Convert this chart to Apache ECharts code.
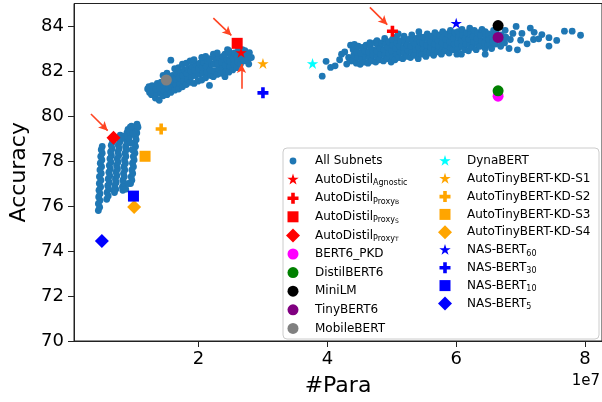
<!DOCTYPE html>
<html><head><meta charset="utf-8">
<script src="https://cdn.jsdelivr.net/npm/echarts@6/dist/echarts.min.js"></script>
<style>html,body{margin:0;padding:0;background:#fff}#c{width:602px;height:402px}</style>
</head><body><div id="c"></div>
<script>
// #Para values are written in units of 1e7 (as on the axis), accuracy in %.
const PARA_UNIT = 1e7;
const xTickLabels = [2, 4, 6, 8];
const yTickLabels = [70, 72, 74, 76, 78, 80, 82, 84];

// All Subnets: small models cluster
const subnetsSmall = [
[0.445,75.8],[0.465,75.95],[0.445,76.1],[0.470,76.25],[0.450,76.4],[0.470,76.55],[0.455,76.7],[0.480,76.85],[0.460,77.0],[0.485,77.15],
[0.462,77.3],[0.490,77.45],[0.470,77.6],[0.495,77.75],[0.475,77.9],[0.500,78.05],[0.482,78.2],[0.505,78.35],[0.490,78.5],[0.505,78.65],
[0.575,76.3],[0.598,76.45],[0.580,76.6],[0.605,76.75],[0.590,76.9],[0.615,77.05],[0.598,77.2],[0.622,77.35],[0.608,77.5],[0.632,77.65],
[0.615,77.8],[0.640,77.95],[0.625,78.1],[0.648,78.25],[0.635,78.4],[0.658,78.55],[0.645,78.7],[0.665,78.85],[0.655,79.0],
[0.695,76.6],[0.715,76.75],[0.700,76.9],[0.722,77.05],[0.710,77.2],[0.732,77.35],[0.720,77.5],[0.742,77.65],[0.728,77.8],[0.750,77.95],
[0.738,78.1],[0.760,78.25],[0.748,78.4],[0.768,78.55],[0.755,78.7],[0.778,78.85],[0.768,79.0],[0.785,79.15],
[0.825,76.7],[0.818,76.85],[0.838,77.0],[0.825,77.15],[0.848,77.3],[0.835,77.45],[0.855,77.6],[0.842,77.75],[0.865,77.9],[0.850,78.05],
[0.872,78.2],[0.860,78.35],[0.880,78.5],[0.868,78.65],[0.890,78.8],[0.878,78.95],[0.898,79.1],[0.888,79.25],[0.905,79.4],
[0.945,77.0],[0.965,77.15],[0.955,77.3],[0.978,77.45],[0.965,77.6],[0.990,77.75],[0.975,77.9],[1.000,78.05],[0.988,78.2],[1.012,78.35],
[0.998,78.5],[1.022,78.65],[1.008,78.8],[1.032,78.95],[1.020,79.1],[1.042,79.25],[1.030,79.4],[1.050,79.55],[1.045,79.64],
[0.87,76.75],[0.91,77.0],[0.69,76.7],[1.06,79.5],[1.0,79.3],[0.94,79.5],[0.93,79.3],[0.96,79.55],[0.98,79.2],[0.92,79.0],[0.95,78.8],[0.97,78.5],[0.85,79.1],[0.80,79.0]
];

// All Subnets: middle cluster
const subnetsMid = [
[1.21,81.2],[1.24,81.05],[1.23,81.3],
[1.27,80.95],[1.29,81.15],[1.28,81.35],
[1.33,80.8],[1.35,81.0],[1.34,81.2],[1.36,81.45],
[1.39,80.7],[1.41,81.0],[1.40,81.25],[1.42,81.5],
[1.45,80.9],[1.47,81.1],[1.46,81.35],[1.48,81.6],[1.45,81.8],
[1.51,80.95],[1.53,81.2],[1.52,81.45],[1.54,81.7],[1.51,81.9],
[1.57,82.48],
[1.57,81.05],[1.59,81.3],[1.58,81.55],[1.60,81.8],
[1.63,81.15],[1.65,81.4],[1.64,81.65],[1.66,81.9],[1.63,82.1],
[1.69,81.2],[1.71,81.45],[1.70,81.7],[1.72,81.95],[1.69,82.15],
[1.75,81.3],[1.77,81.55],[1.76,81.8],[1.78,82.05],[1.75,82.3],
[1.81,81.4],[1.83,81.65],[1.82,81.9],[1.84,82.1],[1.81,82.35],
[1.87,81.5],[1.89,81.75],[1.88,82.0],[1.90,82.2],[1.87,82.45],
[1.93,81.45],[1.95,81.8],[1.94,82.05],[1.96,82.3],[1.93,82.5],
[1.99,81.55],[2.01,81.85],[2.00,82.1],[2.02,82.35],
[2.05,81.6],[2.07,81.9],[2.06,82.15],[2.08,82.4],[2.05,82.6],
[2.11,81.7],[2.13,81.95],[2.12,82.2],[2.14,82.45],[2.11,82.65],
[2.17,81.36],[2.19,81.8],[2.18,82.05],[2.20,82.3],[2.17,82.55],
[2.23,81.75],[2.25,82.0],[2.24,82.3],[2.26,82.55],[2.23,82.75],
[2.29,81.85],[2.31,82.1],[2.30,82.35],[2.32,82.6],[2.29,82.8],
[2.35,81.9],[2.37,82.15],[2.36,82.4],[2.38,82.65],
[2.41,81.75],[2.43,82.0],[2.42,82.25],[2.44,82.5],[2.41,82.75],[2.45,82.95],
[2.47,81.95],[2.49,82.2],[2.48,82.45],[2.50,82.7],[2.47,82.9],
[2.53,82.05],[2.55,82.3],[2.54,82.55],[2.56,82.8],
[2.59,82.15],[2.61,82.4],[2.60,82.65],[2.62,82.9],[2.62,83.04],
[2.65,82.3],[2.67,82.55],[2.66,82.75],[2.68,82.95],
[2.71,82.45],[2.73,82.7],[2.72,82.9],
[2.77,82.5],[2.79,82.82],[2.78,82.31],
[2.82,82.6]
];

// All Subnets: large models cluster
const subnetsLarge = [
[3.92,81.77],[3.98,82.43],[4.05,82.16],[4.12,82.23],[4.19,82.5],[4.22,82.75],[4.27,82.85],[4.30,82.31],[4.33,82.6],[4.36,83.15],[4.35,82.45],
[4.39,82.45],[4.41,82.7],[4.40,82.95],[4.42,83.18],
[4.45,82.35],[4.47,82.6],[4.46,82.85],[4.48,83.1],
[4.51,82.3],[4.53,82.55],[4.52,82.8],[4.54,83.05],
[4.57,82.4],[4.59,82.65],[4.58,82.9],[4.60,83.15],
[4.63,82.35],[4.65,82.6],[4.64,82.85],[4.66,83.1],[4.66,83.26],
[4.69,82.45],[4.71,82.7],[4.70,82.95],[4.74,83.26],
[4.75,82.4],[4.77,82.65],[4.76,82.9],[4.78,83.15],[4.77,83.35],
[4.81,82.5],[4.83,82.75],[4.82,83.0],[4.84,83.25],
[4.87,82.45],[4.89,82.7],[4.88,82.95],[4.90,83.2],[4.89,83.45],
[4.93,82.55],[4.95,82.8],[4.94,83.05],[4.96,83.3],
[4.99,82.4],[5.01,82.65],[5.00,82.9],[5.02,83.15],[5.01,83.4],
[5.05,82.5],[5.07,82.75],[5.06,83.0],[5.08,83.25],[5.07,83.5],
[5.11,82.6],[5.13,82.85],[5.12,83.1],[5.14,83.35],[5.10,83.65],
[5.17,82.55],[5.19,82.8],[5.18,83.05],[5.20,83.3],[5.19,83.55],
[5.23,82.65],[5.25,82.9],[5.24,83.15],[5.26,83.4],
[5.29,82.6],[5.31,82.85],[5.30,83.1],[5.32,83.35],[5.31,83.6],
[5.35,82.7],[5.37,82.95],[5.36,83.2],[5.38,83.45],
[5.41,82.55],[5.43,82.8],[5.42,83.05],[5.44,83.3],[5.43,83.55],[5.42,83.75],
[5.47,82.75],[5.49,83.0],[5.48,83.25],[5.50,83.5],
[5.53,82.65],[5.55,82.9],[5.54,83.15],[5.56,83.4],[5.55,83.65],
[5.59,82.8],[5.61,83.05],[5.60,83.3],[5.62,83.55],
[5.65,82.7],[5.67,82.95],[5.66,83.2],[5.68,83.45],[5.67,83.7],
[5.71,82.85],[5.73,83.1],[5.72,83.35],[5.74,83.6],
[5.77,82.75],[5.79,83.0],[5.78,83.25],[5.80,83.5],[5.79,83.75],
[5.83,82.9],[5.85,83.15],[5.84,83.4],[5.86,83.65],
[5.89,82.8],[5.91,83.05],[5.90,83.3],[5.92,83.55],[5.91,83.8],
[5.95,82.95],[5.97,83.2],[5.96,83.45],[5.98,83.7],
[6.01,82.75],[6.03,83.0],[6.02,83.25],[6.04,83.5],[6.03,83.75],
[6.08,82.75],[6.09,83.1],[6.08,83.35],[6.10,83.6],[6.09,83.85],
[6.13,82.95],[6.15,83.2],[6.14,83.45],[6.16,83.7],
[6.19,82.9],[6.21,83.15],[6.20,83.4],[6.22,83.65],[6.21,83.9],
[6.25,83.05],[6.27,83.3],[6.26,83.55],[6.28,83.8],
[6.31,82.95],[6.33,83.2],[6.32,83.45],[6.34,83.7],
[6.37,83.1],[6.39,83.35],[6.38,83.6],[6.40,83.85],
[6.45,82.75],[6.45,83.0],[6.44,83.25],[6.46,83.5],[6.45,83.75],
[6.49,83.15],[6.52,83.18],[6.51,83.4],[6.50,83.65],
[6.55,83.0],[6.57,83.3],[6.56,83.55],[6.58,83.8],
[6.61,83.2],[6.63,83.45],[6.62,83.7],
[6.69,83.1],[6.71,83.35],[6.70,83.6],
[6.75,83.25],[6.77,83.5],[6.76,83.81],
[6.93,83.98],[7.15,83.91],[7.21,83.72],[7.33,83.62],[7.02,83.67],[6.88,83.67],[6.84,83.4],[7.00,83.37],[7.10,83.21],
[7.20,83.40],[7.28,83.43],[7.44,83.48],[7.44,83.11],[7.56,83.36],[7.68,83.77],[7.80,83.77],[7.93,83.59],[6.82,83.00],[6.95,82.94]
];

// Named models
const modelNames = ['AutoDistil_Agnostic','AutoDistil_ProxyB','AutoDistil_ProxyS','AutoDistil_ProxyT',
  'BERT6_PKD','DistilBERT6','MiniLM','TinyBERT6','MobileBERT',
  'DynaBERT','AutoTinyBERT-KD-S1','AutoTinyBERT-KD-S2','AutoTinyBERT-KD-S3','AutoTinyBERT-KD-S4',
  'NAS-BERT60','NAS-BERT30','NAS-BERT10','NAS-BERT5'];
const modelParams = [2.66, 5.01, 2.60, 0.68, 6.65, 6.65, 6.65, 6.65, 1.50, 3.77, 3.00, 1.42, 1.17, 1.00, 6.00, 3.00, 0.99, 0.50];
const modelAcc    = [82.8, 83.77, 83.23, 79.03, 80.88, 81.12, 84.02, 83.49, 81.6, 82.31, 82.31, 79.42, 78.21, 75.96, 84.1, 81.03, 76.44, 74.45];

// Arrow annotations: [fromPara, fromAcc, toPara, toAcc]
const arrows = [
  [0.33, 80.09, 0.59, 79.35],
  [2.23, 84.35, 2.51, 83.58],
  [2.667, 81.21, 2.667, 82.31],
  [4.66, 84.83, 4.93, 84.06]
];

// ---------- styling ----------
const DOT = 'path://M0,0M14,14M3.6,7A3.4,3.4,0,1,1,10.4,7A3.4,3.4,0,1,1,3.6,7Z';
const CIRCLE = 'path://M0,0M14,14M1.5,7A5.5,5.5,0,1,1,12.5,7A5.5,5.5,0,1,1,1.5,7Z';
const SQUARE = 'path://M0,0M14,14M1.5,1.5H12.5V12.5H1.5Z';
const DIAMOND = 'path://M7,0L14,7L7,14L0,7Z';
const STAR = 'path://M0,0M14,14M7,1L8.347,5.146L12.706,5.146L9.18,7.708L10.527,11.854L7,9.292L3.473,11.854L4.82,7.708L1.294,5.146L5.653,5.146Z';
const PLUS = 'path://M0,0M14,14M5.2,1.5H8.8V5.2H12.5V8.8H8.8V12.5H5.2V8.8H1.5V5.2H5.2Z';
const RED='#ff0000', ORANGE='#ffa500', BLUE='#0000ff';
const modelStyle = [
  [STAR,RED],[PLUS,RED],[SQUARE,RED],[DIAMOND,RED],
  [CIRCLE,'#ff00ff'],[CIRCLE,'#008000'],[CIRCLE,'#000000'],[CIRCLE,'#800080'],[CIRCLE,'#808080'],
  [STAR,'#00ffff'],[STAR,ORANGE],[PLUS,ORANGE],[SQUARE,ORANGE],[DIAMOND,ORANGE],
  [STAR,BLUE],[PLUS,BLUE],[SQUARE,BLUE],[DIAMOND,BLUE]
];
const legendLabel = {
  'AutoDistil_Agnostic': 'AutoDistil{sub|Agnostic}',
  'AutoDistil_ProxyB': 'AutoDistil{sub|Proxy}{sub2|B}',
  'AutoDistil_ProxyS': 'AutoDistil{sub|Proxy}{sub2|S}',
  'AutoDistil_ProxyT': 'AutoDistil{sub|Proxy}{sub2|T}',
  'NAS-BERT60': 'NAS-BERT{sub|60}',
  'NAS-BERT30': 'NAS-BERT{sub|30}',
  'NAS-BERT10': 'NAS-BERT{sub|10}',
  'NAS-BERT5': 'NAS-BERT{sub|5}'
};
const FONT = 'DejaVu Sans';
const toPt = p => [p[0] * PARA_UNIT, p[1]];

const subnetData = subnetsSmall.concat(subnetsMid, subnetsLarge).map(toPt);

const series = [{
  name: 'All Subnets', type: 'scatter', data: subnetData,
  symbol: DOT, symbolSize: 14, symbolKeepAspect: true,
  itemStyle: { color: '#1f77b4', opacity: 1 },
  z: 2,
  markLine: {
    silent: true, symbol: ['none', 'arrow'], symbolSize: [7, 9],
    label: { show: false },
    lineStyle: { color: '#ff4422', width: 1.6, type: 'solid' },
    emphasis: { disabled: true },
    data: arrows.map(a => [{ coord: [a[0] * PARA_UNIT, a[1]] }, { coord: [a[2] * PARA_UNIT, a[3]] }])
  }
}];
modelNames.forEach((n, i) => {
  series.push({
    name: n, type: 'scatter', z: 3,
    data: [[modelParams[i] * PARA_UNIT, modelAcc[i]]],
    symbol: modelStyle[i][0], symbolSize: 14, symbolKeepAspect: true,
    itemStyle: { color: modelStyle[i][1], opacity: 1 }
  });
});

const iconOf = n => n === 'All Subnets' ? DOT : modelStyle[modelNames.indexOf(n)][0];
const leftNames = ['All Subnets'].concat(modelNames.slice(0, 9));
const rightNames = modelNames.slice(9);
const legendCommon = {
  orient: 'vertical', itemWidth: 34, itemHeight: 14, symbolKeepAspect: true,
  selectedMode: false, z: 10, padding: 0,
  formatter: n => legendLabel[n] || n,
  textStyle: {
    fontFamily: FONT, fontSize: 12, color: '#000', lineHeight: 15,
    rich: {
      sub: { fontFamily: FONT, fontSize: 8, lineHeight: 9, verticalAlign: 'bottom', color: '#000' },
      sub2: { fontFamily: FONT, fontSize: 6, lineHeight: 6, verticalAlign: 'bottom', color: '#000' }
    }
  }
};

const option = {
  animation: false,
  backgroundColor: '#fff',
  grid: { left: 74, top: 3.5, right: 0, bottom: 56, show: true, borderColor: '#222', borderWidth: 1, containLabel: false },
  xAxis: {
    type: 'value', min: 0.067 * PARA_UNIT, max: 8.263 * PARA_UNIT,
    name: '#Para', nameLocation: 'middle', nameGap: 34,
    nameTextStyle: { fontFamily: FONT, fontSize: 22, color: '#000' },
    axisLine: { show: true, onZero: false, lineStyle: { color: '#222', width: 1 } },
    axisTick: { show: true, length: 6, lineStyle: { color: '#222' }, customValues: xTickLabels.map(v => v * PARA_UNIT) },
    axisLabel: { customValues: xTickLabels.map(v => v * PARA_UNIT), formatter: v => String(Math.round(v / PARA_UNIT)),
      fontFamily: FONT, fontSize: 18, color: '#000', margin: 9 },
    splitLine: { show: false }
  },
  yAxis: {
    type: 'value', min: 70, max: 85,
    name: 'Accuracy', nameLocation: 'middle', nameGap: 40,
    nameTextStyle: { fontFamily: FONT, fontSize: 22, color: '#000' },
    axisLine: { show: true, onZero: false, lineStyle: { color: '#222', width: 1 } },
    axisTick: { show: true, length: 6, lineStyle: { color: '#222' }, customValues: yTickLabels },
    axisLabel: { customValues: yTickLabels, fontFamily: FONT, fontSize: 18, color: '#000', margin: 10 },
    splitLine: { show: false }
  },
  legend: [
    Object.assign({}, legendCommon, { left: 286, top: 153.5, itemGap: 3.6, data: leftNames.map(n => ({ name: n, icon: iconOf(n) })) }),
    Object.assign({}, legendCommon, { left: 438, top: 153.5, itemGap: 2.8, data: rightNames.map(n => ({ name: n, icon: iconOf(n) })) })
  ],
  graphic: [
    { type: 'rect', z: 5, shape: { x: 283, y: 148, width: 316, height: 191, r: 4 },
      style: { fill: 'rgba(255,255,255,0.8)', stroke: '#cccccc', lineWidth: 1 } },
    { type: 'text', z: 5, x: 600, y: 381, style: { text: '1e7', fontFamily: FONT, fontSize: 15, fill: '#000', align: 'right', verticalAlign: 'middle' } }
  ],
  series: series
};

const chart = echarts.init(document.getElementById('c'), null, { renderer: 'canvas' });
chart.setOption(option);
</script></body></html>
